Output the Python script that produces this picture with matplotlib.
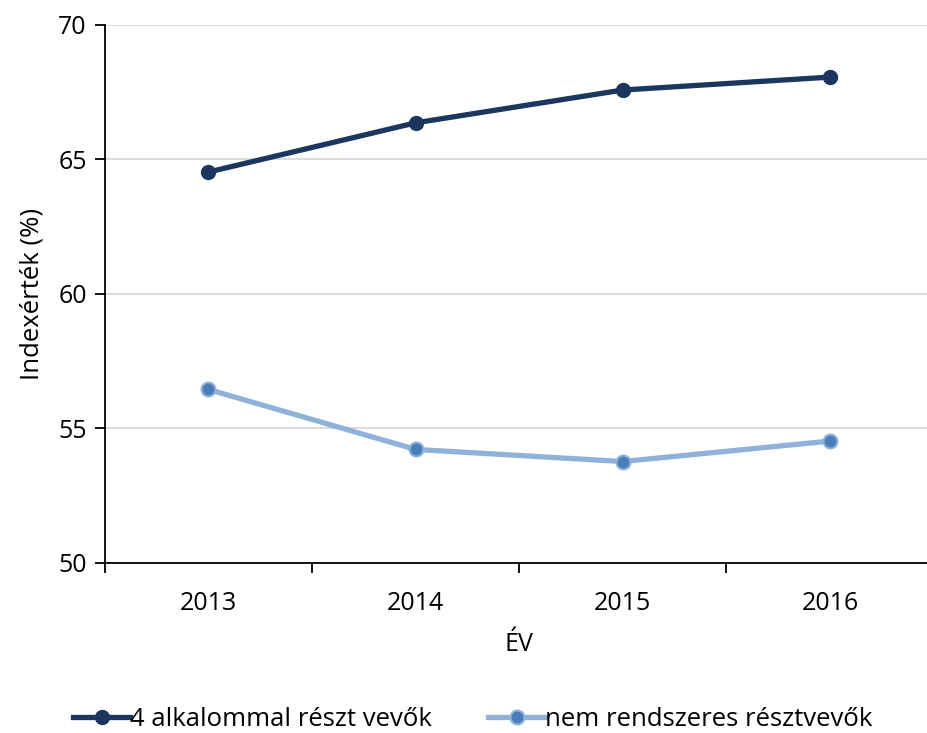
import matplotlib.pyplot as plt

years = ["2013", "2014", "2015", "2016"]
regular = [64.53, 66.36, 67.58, 68.06]
irregular = [56.45, 54.22, 53.77, 54.53]
labels = ["4 alkalommal részt vevők", "nem rendszeres résztvevők"]

plt.rcParams['font.family'] = ['Open Sans', 'DejaVu Sans']

fig = plt.figure(figsize=(9.27, 7.33), dpi=100)
ax = fig.add_axes([0.113, 0.232, 0.894, 0.734])

x = range(len(years))
ax.plot(x, regular, '-o', color="#1b365f", lw=3.8, ms=10, mfc="#1b365f", mec="#1b365f",
        label=labels[0], zorder=3)
ax.plot(x, irregular, '-o', color="#8fb1da", lw=3.8, ms=10, mfc="#4a7ebb", mec="#8fb1da",
        mew=1.5, label=labels[1], zorder=3)

ax.set_xlim(-0.5, 3.5)
ax.set_ylim(50, 70)
ax.set_yticks([50, 55, 60, 65, 70])
ax.set_xticks(list(x))
ax.set_xticklabels(years)
ax.set_xticks([-0.5, 0.5, 1.5, 2.5, 3.5], minor=True)
ax.tick_params(axis='x', which='major', length=0, pad=20, labelsize=18)
ax.tick_params(axis='x', which='minor', length=7, width=1.3, direction='out')
ax.tick_params(axis='y', length=7, width=1.3, labelsize=18, pad=6)
ax.grid(axis='y', color="#d9d9d9", lw=1.3, zorder=0)
ax.set_axisbelow(True)
for s in ['top', 'right']:
    ax.spines[s].set_visible(False)
for s in ['left', 'bottom']:
    ax.spines[s].set_linewidth(1.3)

ax.set_xlabel("ÉV", fontsize=18, labelpad=12)
ax.set_ylabel("Indexérték (%)", fontsize=18.5, labelpad=10)

fig.legend(loc="lower center", bbox_to_anchor=(0.51, -0.03), ncol=2, frameon=False,
           fontsize=18.5, handlelength=2.2, handletextpad=0.0, columnspacing=2.2)

fig.savefig("out.png", dpi=100)
